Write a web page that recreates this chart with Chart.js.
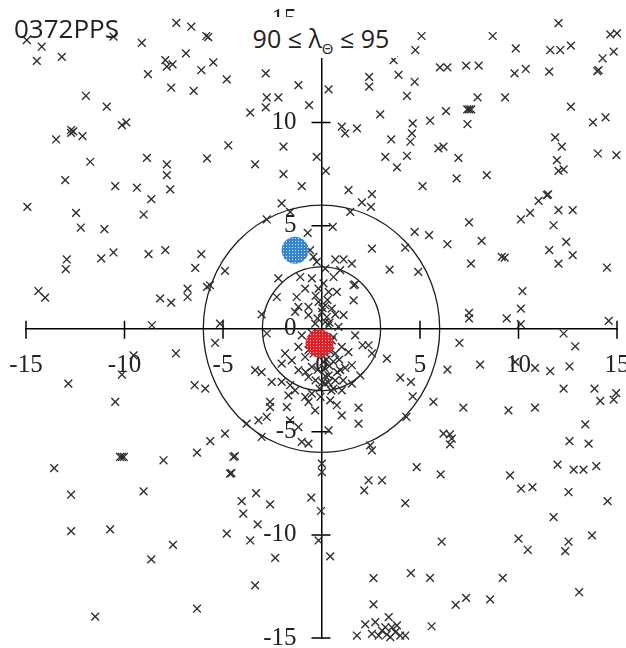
<!DOCTYPE html>
<html>
<head>
<meta charset="utf-8">
<script src="https://cdn.jsdelivr.net/npm/chart.js@4.4.0/dist/chart.umd.min.js"></script>
<style>
  html, body { margin: 0; padding: 0; background: #fff; }
  #wrap { position: relative; width: 626px; height: 648px; }
  #plot-id { position: absolute; left: 14px; top: 10px; font: 26px "Open Sans"; color: #222; }
  #range {
    position: absolute; left: 245px; top: 17px; width: 152px; height: 41px;
    background: #fff; font: 25px "Open Sans"; color: #222; text-align: center; line-height: 42px;
  }
  #range sub { font-size: 15px; vertical-align: -6px; line-height: 0; }
</style>
</head>
<body>
<div id="wrap">
  <canvas id="chart" width="626" height="648"></canvas>
  <div id="plot-id">0372PPS</div>
  <div id="range">90 ≤ λ<sub>Θ</sub> ≤ 95</div>
</div>
<script>
// crosses (x, y pairs)
const crossX = [
  -14.96,-14.2,-14.45,-13.18,-10.56,-9.12,-7.37,-6.61,-5.85,-5.75,-6.88,-7.93,-7.85,-7.56,-6.1,-8.81,-7.63,-6.49,-11.96,-10.9,-10.13,-9.91,-12.71,-12.71,-12.6,-12.13,-13.47,-11.74,-8.86,-5.81,
  -5.49,-4.81,-2.83,-1.17,-2.78,-2.19,-2.83,-3.62,-0.63,0.36,1.03,1.2,1.8,2.42,2.42,3.91,4.73,4.34,2.98,4.63,4.59,4.51,3.54,4.76,3.66,-4.73,-1.93,-0.24,3.24,4.34,
  5.08,8.69,9.86,12.03,11.61,12.12,12.66,14.66,15.0,14.83,14.27,14.07,14.0,6.01,6.39,7.34,7.98,9.8,10.37,11.56,7.92,9.32,12.66,6.32,7.4,7.5,7.6,5.51,7.41,13.78,14.42,11.86,12.2,5.93,6.19,6.95,11.95,14.03,14.97,
  -7.85,-7.85,-7.68,-13.01,-10.47,-9.37,-8.64,-14.93,-12.46,-9.03,-12.22,-11.02,-12.93,-12.98,-11.18,-10.56,-8.78,-7.93,-6.1,-6.41,-14.37,-14.03,-8.19,-7.63,-6.8,-6.8,-5.81,
  -3.37,-1.93,-1.0,0.22,3.83,1.37,2.56,2.05,2.51,1.46,-2.02,-1.59,-2.78,-0.7,0.57,4.73,4.25,2.56,3.46,-4.9,-5.66,-0.58,-0.41,-0.24,0.7,1.12,1.54,0.95,0.19,-2.19,-1.08,-0.49,0.61,1.63,1.7,1.63,-2.27,-1.26,-0.83,-0.15,0.36,0.78,-1.17,-0.66,-0.15,0.19,0.52,0.02,-1.34,-0.66,0.27,0.7,1.12,-3.04,
  6.86,8.39,5.13,12.03,12.29,11.44,11.5,11.02,10.59,10.12,12.03,12.75,11.78,7.49,5.46,6.39,8.13,9.15,9.3,7.59,11.56,12.42,12.75,12.03,14.49,10.2,10.12,7.49,7.49,9.4,14.58,4.91,
  -8.61,-7.39,-9.54,-10.13,-12.85,-10.47,-6.44,-5.9,-5.65,-6.32,-8.02,-10.13,-10.03,-10.23,-13.57,
  -5.15,-5.4,-2.78,3.32,4.0,4.54,4.63,4.31,1.71,2.08,2.39,2.56,1.37,1.03,1.54,0.95,1.97,1.03,1.54,0.36,0.7,0.19,-0.66,-1.17,-0.49,-1.85,-1.51,-2.02,-0.83,-1.17,-0.66,0.7,0.52,0.36,-0.32,0.86,0.19,-1.0,
  -3.37,-3.04,-2.53,-2.02,-1.59,-1.34,-0.83,-0.49,-0.66,-1.68,-2.61,-2.61,-2.78,-3.2,-1.76,-1.59,-0.32,0.44,0.78,1.03,1.88,1.88,-1.17,0.36,-3.8,-3.04,-4.9,-1.0,-0.66,2.47,2.56,-4.47,-4.4,-4.64,-4.57,0.02,0.02,2.39,3.07,4.83,
  0.1,0.4,-0.2,0.6,-0.4,0.9,1.2,0.5,-0.1,0.2,
  0.1,-0.3,0.3,0.05,-0.2,0.4,-0.5,0.6,0.15,0.35,-0.3,0.8,0.25,0.45,-0.05,0.6,1.1,-0.8,0.2,0.05,
  10.12,12.29,12.88,7.0,6.39,8.05,9.83,10.84,11.61,12.59,12.29,13.86,14.15,14.83,14.96,5.68,7.2,9.49,10.84,13.39,12.59,13.56,6.19,6.52,6.61,6.52,6.05,9.57,11.98,12.8,13.3,13.95,
  -12.71,-9.03,-12.71,-10.73,-7.54,-8.64,-6.32,-11.49,
  -3.32,-4.05,-2.61,-3.97,-3.24,-4.81,-3.62,-2.35,-3.37,-0.52,-0.03,-0.15,0.44,2.17,4.25,4.54,2.64,2.64,1.8,2.22,2.73,3.41,2.56,3.07,3.32,3.57,3.75,4.0,4.25,3.49,3.83,3.24,2.9,
  10.13,10.71,12.54,14.52,11.78,6.1,10.0,10.47,12.54,12.37,13.73,5.51,9.2,13.08,7.34,6.81,8.56,5.59
];
const crossY = [
  14.0,13.68,12.99,13.19,14.17,13.87,14.84,14.65,14.2,14.15,13.36,13.03,12.71,12.82,12.55,12.35,11.69,11.54,11.3,10.77,9.88,10.01,9.64,9.5,9.57,9.34,9.18,8.1,8.29,8.26,
  12.92,12.1,12.39,11.82,11.22,11.22,10.74,10.48,10.85,11.61,9.8,9.48,9.72,12.22,11.74,12.31,11.98,11.3,10.4,9.96,9.48,9.07,9.18,13.52,13.03,8.9,8.83,8.34,8.34,8.39,
  14.2,14.2,13.6,14.82,13.52,13.52,13.73,14.28,14.33,13.44,13.12,12.55,12.5,12.68,12.68,12.76,12.76,12.39,12.6,12.47,11.22,11.22,10.77,10.56,10.64,10.64,10.64,10.09,9.93,10.01,10.25,9.28,8.83,8.75,8.83,8.29,8.18,8.5,8.42,
  7.97,7.45,6.76,7.21,6.92,6.84,6.29,5.91,5.62,5.54,4.91,4.83,3.36,2.89,3.41,3.7,3.62,3.81,3.62,2.95,1.83,1.51,1.47,1.27,1.95,1.54,2.03,
  7.97,7.5,6.92,7.66,7.83,6.72,6.53,6.13,5.91,5.67,6.08,5.67,5.3,4.65,4.94,4.7,3.94,3.89,2.87,2.81,2.11,3.81,3.49,3.24,3.36,3.36,3.16,2.84,2.92,2.44,2.51,2.44,2.51,2.11,2.15,1.38,1.54,1.54,1.95,1.95,1.79,1.79,1.06,1.06,1.3,1.14,0.98,0.82,0.82,0.66,0.57,0.7,0.66,0.7,
  7.29,7.45,6.92,7.66,7.73,6.48,6.52,6.2,5.62,5.3,5.75,5.75,5.02,5.16,4.54,4.1,4.26,3.49,3.45,3.16,3.81,4.21,3.57,3.16,2.97,1.82,0.98,0.77,0.5,0.5,0.38,2.76,
  0.17,-1.2,-1.29,-2.22,-2.66,-3.55,-2.74,-2.9,-5.45,-6.01,-6.38,-6.22,-6.22,-6.22,-6.76,
  0.25,-0.69,-0.23,-1.45,-2.37,-2.58,-3.28,-4.28,-0.32,-0.8,-0.8,-1.2,-1.13,-0.88,-1.77,-2.01,-2.26,-2.99,-2.66,-2.26,-2.5,-2.66,-2.34,-2.01,-1.85,-1.2,-1.53,-1.69,-1.37,-0.88,-1.04,-1.2,-0.56,0.17,0.25,0.09,0.33,-0.32,
  -2.01,-2.1,-2.58,-2.58,-2.74,-2.99,-3.31,-3.15,-3.55,-3.23,-3.55,-3.8,-4.28,-4.44,-3.8,-4.44,-3.96,-3.47,-3.71,-4.2,-3.83,-4.6,-4.77,-4.93,-4.6,-5.25,-5.09,-5.49,-5.57,-5.66,-5.9,-6.22,-6.18,-7.03,-7.0,-6.54,-6.95,-7.35,-7.35,-6.71,
  -1.6,-1.8,-2.0,-1.6,-1.2,-1.5,-1.9,-3.0,-2.9,-1.2,
  2.2,1.6,1.4,1.0,0.5,0.3,-0.2,-0.4,-1.9,-2.6,-2.5,-2.1,-1.5,-1.1,-3.3,-2.9,-2.5,-2.1,-2.3,-2.6,
  0.22,-0.23,-0.85,-0.69,-1.98,-1.74,-1.61,-1.9,-2.06,-1.82,-2.9,-2.9,-3.5,-3.44,-3.12,-3.55,-3.83,-3.96,-3.83,-4.64,-5.45,-5.57,-5.09,-5.12,-5.33,-5.61,-7.06,-7.11,-6.59,-6.83,-6.83,-6.66,
  -8.05,-7.89,-9.82,-9.73,-10.48,-11.19,-13.58,-13.96,
  -7.97,-8.36,-8.52,-8.97,-9.49,-9.94,-10.27,-11.11,-12.45,-8.19,-8.84,-10.27,-11.04,-7.84,-8.46,-11.85,-12.1,-13.37,-14.88,-14.34,-14.23,-13.99,-14.8,-14.64,-14.83,-14.48,-14.72,-14.88,-14.88,-14.96,-14.39,-14.48,-14.88,
  -7.76,-7.68,-7.92,-8.36,-9.14,-10.32,-10.18,-10.72,-10.32,-10.79,-10.02,-12.08,-12.08,-12.78,-13.05,-13.39,-13.13,-14.43
];
const blueDot = [-1.34, 3.81];
const redDot = [-0.1, -0.72];
const ringRadii = [3, 6];
const tickValues = [-15, -10, -5, 0, 5, 10, 15];

const crossPoints = crossX.map((x, i) => ({x: x, y: crossY[i]}));

const dotPattern = (base) => {
    const c = document.createElement('canvas');
    c.width = 3; c.height = 3;
    const g = c.getContext('2d');
    g.fillStyle = base;
    g.fillRect(0, 0, 3, 3);
    g.fillStyle = 'rgba(255,255,255,0.85)';
    g.fillRect(1, 1, 1, 1);
    return g.createPattern(c, 'repeat');
}

// rings round the origin and ticks that cross the axes
const ringPlugin = {
    id: 'rings',
    beforeDatasetsDraw(chart) {
        const xs = chart.scales.x, ys = chart.scales.y, ctx = chart.ctx;
        const cx = xs.getPixelForValue(0), cy = ys.getPixelForValue(0);
        ctx.save();
        ctx.strokeStyle = '#1e1e1e';
        ctx.lineWidth = 1.3;
        ringRadii.forEach(r => {
            ctx.beginPath();
            ctx.ellipse(cx, cy, xs.getPixelForValue(r) - cx, cy - ys.getPixelForValue(r), 0, 0, 2 * Math.PI);
            ctx.stroke();
        });
        ctx.lineWidth = 1.5;
        ctx.strokeStyle = '#000';
        tickValues.forEach(v => {
            if (v === 0) return;
            const px = xs.getPixelForValue(v), py = ys.getPixelForValue(v);
            ctx.beginPath();
            ctx.moveTo(px, cy - 8); ctx.lineTo(px, cy + 10);
            ctx.moveTo(cx - 10, py); ctx.lineTo(cx + 9, py);
            ctx.stroke();
        });
        ctx.restore();
    }
};

const noSpace = (s) => {
    if (s.isHorizontal()) s.height = 0; else s.width = 0;
    s.paddingLeft = 0; s.paddingRight = 0; s.paddingTop = 0; s.paddingBottom = 0;
}

const tickFont = {family: '"Liberation Serif", serif', size: 25};

new Chart(document.getElementById('chart'), {
    type: 'scatter',
    data: {
        datasets: [
            {
                data: [{x: redDot[0], y: redDot[1]}],
                pointRadius: 14, pointStyle: 'circle',
                backgroundColor: dotPattern('#ec1c24'), borderWidth: 0, clip: false
            },
            {
                data: [{x: blueDot[0], y: blueDot[1]}],
                pointRadius: 13.5, pointStyle: 'circle',
                backgroundColor: dotPattern('#3585d6'), borderWidth: 0, clip: false
            },
            {
                data: crossPoints,
                pointStyle: 'crossRot', pointRadius: 5.5,
                borderColor: '#2c2c2c', borderWidth: 1.35, clip: false
            }
        ]
    },
    options: {
        responsive: false,
        animation: false,
        events: [],
        layout: {autoPadding: false, padding: {left: 26, right: 9, top: 19.5, bottom: 10}},
        plugins: {legend: {display: false}, tooltip: {enabled: false}},
        scales: {
            x: {
                type: 'linear', min: -15, max: 15,
                position: {y: 0},
                afterFit: noSpace,
                grid: {display: false, drawTicks: false},
                border: {display: true, color: '#000', width: 1.5},
                ticks: {stepSize: 5, autoSkip: false, maxRotation: 0, padding: 22, color: '#222', font: tickFont}
            },
            y: {
                type: 'linear', min: -15, max: 15,
                position: {x: 0},
                afterFit: noSpace,
                grid: {display: false, drawTicks: false},
                border: {display: true, color: '#000', width: 1.5},
                // label sits about 24px left of the axis
                ticks: {stepSize: 5, autoSkip: false, color: '#222', font: tickFont,
                        callback: (v) => v + '    '}
            }
        }
    },
    plugins: [ringPlugin]
});
</script>
</body>
</html>
